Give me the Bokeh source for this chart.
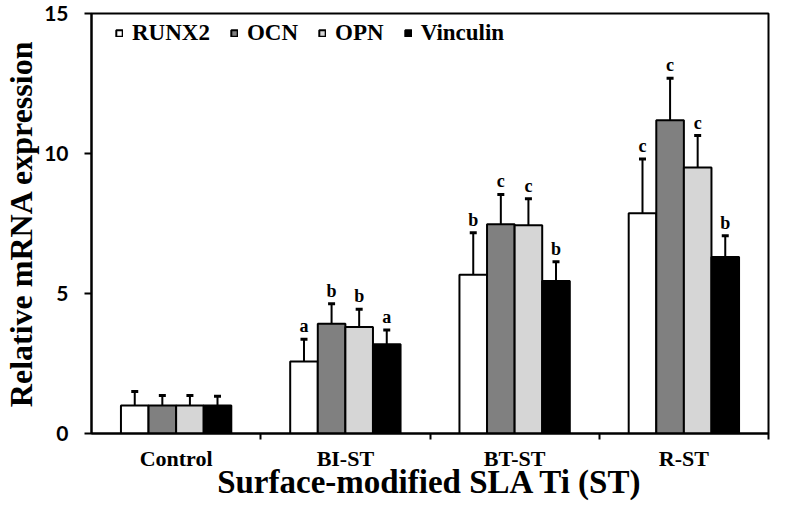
from bokeh.plotting import figure
from bokeh.models import (ColumnDataSource, Whisker, TeeHead, FixedTicker, Legend, LegendItem, Range1d)
from bokeh.core.properties import value
from bokeh.embed import file_html
from bokeh.resources import INLINE

groups = ["Control", "BI-ST", "BT-ST", "R-ST"]
genes = ["RUNX2", "OCN", "OPN", "Vinculin"]
means = {
    "RUNX2":    [1.0, 2.57, 5.67, 7.87],
    "OCN":      [1.0, 3.92, 7.47, 11.19],
    "OPN":      [1.0, 3.80, 7.44, 9.50],
    "Vinculin": [1.0, 3.19, 5.45, 6.30],
}
errors = {
    "RUNX2":    [0.50, 0.80, 1.50, 1.93],
    "OCN":      [0.36, 0.71, 1.07, 1.50],
    "OPN":      [0.36, 0.64, 0.94, 1.14],
    "Vinculin": [0.33, 0.51, 0.68, 0.76],
}
letters = {
    "RUNX2":    ["", "a", "b", "c"],
    "OCN":      ["", "b", "c", "c"],
    "OPN":      ["", "b", "c", "c"],
    "Vinculin": ["", "a", "b", "b"],
}
y_ticks = [0, 5, 10, 15]

styles = {
    "RUNX2":    dict(fill_color="white"),
    "OCN":      dict(fill_color="#808080"),
    "OPN":      dict(fill_color="#d6d6d6"),
    "Vinculin": dict(fill_color="black"),
}

SERIF = "Liberation Serif"
bw = 0.163

p = figure(width=770, height=502, output_backend="svg", toolbar_location=None,
           x_range=Range1d(0, 4), y_range=Range1d(0, 15),
           min_border_left=85, min_border_right=2, min_border_top=13, min_border_bottom=64)
p.xgrid.visible = False
p.ygrid.visible = False
p.outline_line_color = "black"
p.outline_line_width = 2

items = []
for k, g in enumerate(genes):
    xs = [i + 0.5 + (k - 1.5) * bw for i in range(len(groups))]
    top = means[g]
    up = [m + e for m, e in zip(top, errors[g])]
    src = ColumnDataSource(dict(x=xs, top=top, up=up, lab=letters[g]))
    r = p.vbar(x="x", top="top", width=bw, source=src, line_color="black", line_width=2, **styles[g])
    items.append(LegendItem(label=g, renderers=[r]))
    w = Whisker(base="x", upper="up", lower="top", source=src, line_color="black", line_width=2,
                upper_head=TeeHead(size=7, line_width=3, line_color="black"), lower_head=None)
    p.add_layout(w)
    p.text(x="x", y="up", text="lab", source=src, text_align="center", text_baseline="bottom",
           y_offset=-3, text_font=value(SERIF), text_font_style="bold", text_font_size="18px", text_color="black")

legend = Legend(items=items, orientation="horizontal", location=(24, 387),
                glyph_width=8, glyph_height=8, label_standoff=9, spacing=20, padding=6,
                label_text_font=SERIF, label_text_font_style="bold", label_text_font_size="23px",
                label_text_color="black",
                border_line_color=None, background_fill_alpha=0)
p.add_layout(legend)

# y axis
p.yaxis.ticker = FixedTicker(ticks=y_ticks)
p.yaxis.minor_tick_line_color = None
p.yaxis.major_tick_out = 7
p.yaxis.major_tick_in = 0
p.yaxis.major_tick_line_width = 2
p.yaxis.major_tick_line_color = "black"
p.yaxis.axis_line_width = 2
p.yaxis.axis_line_color = "black"
p.yaxis.major_label_standoff = 16
p.yaxis.major_label_text_font = "Lato"
p.yaxis.major_label_text_font_style = "bold"
p.yaxis.major_label_text_font_size = "21px"
p.yaxis.major_label_text_color = "black"
p.yaxis.axis_label = "Relative mRNA expression"
p.yaxis.axis_label_text_font = SERIF
p.yaxis.axis_label_text_font_style = "bold"
p.yaxis.axis_label_text_font_size = "32px"
p.yaxis.axis_label_text_color = "black"
p.yaxis.axis_label_standoff = 2

# x axis
p.xaxis.ticker = FixedTicker(ticks=[i + 0.5 for i in range(len(groups))], minor_ticks=[1, 2, 3, 4])
p.xaxis.major_label_overrides = {i + 0.5: g for i, g in enumerate(groups)}
p.xaxis.major_tick_out = 0
p.xaxis.major_tick_in = 0
p.xaxis.minor_tick_out = 6
p.xaxis.minor_tick_in = 0
p.xaxis.minor_tick_line_width = 2
p.xaxis.minor_tick_line_color = "black"
p.xaxis.axis_line_width = 2
p.xaxis.axis_line_color = "black"
p.xaxis.major_label_standoff = 6
p.xaxis.major_label_text_font = SERIF
p.xaxis.major_label_text_font_style = "bold"
p.xaxis.major_label_text_font_size = "22px"
p.xaxis.major_label_text_color = "black"
p.xaxis.axis_label = "Surface-modified SLA Ti (ST)"
p.xaxis.axis_label_text_font = SERIF
p.xaxis.axis_label_text_font_style = "bold"
p.xaxis.axis_label_text_font_size = "33px"
p.xaxis.axis_label_text_color = "black"
p.xaxis.axis_label_standoff = -10

open("out.html", "w").write(file_html(p, INLINE))
